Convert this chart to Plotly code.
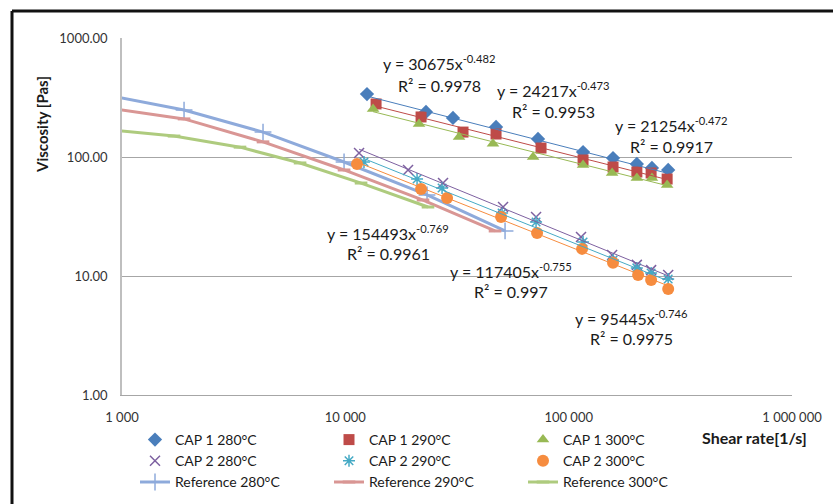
import numpy as np
import plotly.graph_objects as go

# ---------------- data ----------------
CAP1_280_x = [12500, 22970, 30340, 47300, 72900, 116000, 158000, 202000, 236000, 279000]
CAP1_280_y = [338, 239, 213, 179, 142, 110, 98, 87.3, 80.9, 77.8]
CAP1_290_x = [13730, 21830, 33650, 47300, 75200, 116000, 158000, 202000, 234000, 276000]
CAP1_290_y = [279, 217, 162, 156, 119, 94.4, 82.4, 74.8, 73.4, 65.3]
CAP1_300_x = [13310, 21380, 32300, 45830, 69300, 116000, 156500, 202000, 236000, 276000]
CAP1_300_y = [253, 189, 147, 129, 100, 85.7, 73.4, 66.7, 66.7, 58.2]

CAP2_280_x = [11520, 19090, 27380, 50840, 71450, 113600, 156500, 202000, 234000, 279000]
CAP2_280_y = [108, 77.8, 60.4, 38.0, 31.3, 21.3, 15.0, 12.4, 11.2, 10.2]
CAP2_290_x = [12120, 20950, 27110, 50330, 71450, 116000, 158000, 202000, 234000, 279000]
CAP2_290_y = [90.8, 65.3, 54.9, 33.8, 28.4, 19.3, 13.6, 11.7, 10.6, 9.44]
CAP2_300_x = [11280, 21830, 28540, 49820, 72200, 114800, 158000, 204600, 234000, 279000]
CAP2_300_y = [87.3, 53.8, 45.2, 31.3, 23.0, 16.9, 12.9, 10.2, 9.26, 7.78]

REF_280_x = [850, 1896, 4280, 9870, 23220, 51900]
REF_280_y = [332, 248, 162, 90.8, 48.0, 23.9]
REF_290_x = [850, 1896, 4280, 9870, 22280, 46800]
REF_290_y = [259, 209, 134, 77.8, 43.5, 23.9]
REF_300_x = [850, 1710, 3376, 6270, 11760, 23450]
REF_300_y = [170, 150, 121, 89.1, 60.4, 38.0]

# power trendline coefficients (y = a * x^b) and R^2 as printed on chart
TREND_A = [30675, 24217, 21254, 154493, 117405, 95445]
TREND_B = [-0.482, -0.473, -0.472, -0.769, -0.755, -0.746]
TREND_R2 = ["0.9978", "0.9953", "0.9917", "0.9961", "0.997", "0.9975"]

X_TICKS = [1000, 10000, 100000, 1000000]
X_TICKTEXT = ["1 000", "10 000", "100 000", "1 000 000"]
Y_TICKS = [1, 10, 100, 1000]
Y_TICKTEXT = ["1.00", "10.00", "100.00", "1000.00"]

SERIES_NAMES = ["CAP 1 280°C", "CAP 1 290°C", "CAP 1 300°C",
                "CAP 2 280°C", "CAP 2 290°C", "CAP 2 300°C"]
REF_NAMES = ["Reference 280°C", "Reference 290°C", "Reference 300°C"]

# ---------------- styling ----------------
FONT = "Lato"
W, H = 833, 504
L, R, T, B = 122, 792, 38, 395  # plot area in pixels


def pxx(p):
    return (p - L) / (R - L)


def pxy(p):
    return (B - p) / (B - T)


cap_x = [CAP1_280_x, CAP1_290_x, CAP1_300_x, CAP2_280_x, CAP2_290_x, CAP2_300_x]
cap_y = [CAP1_280_y, CAP1_290_y, CAP1_300_y, CAP2_280_y, CAP2_290_y, CAP2_300_y]
cap_colors = ["#4A7EBB", "#BE4B48", "#98B954", "#7D60A0", "#46AAC5", "#F68C3F"]
cap_markers = [
    dict(symbol="diamond", size=11, color="#4A7EBB"),
    dict(symbol="square", size=11, color="#BE4B48"),
    dict(symbol="triangle-up", size=11, color="#98B954"),
    dict(symbol="x-thin", size=10, color="#7D60A0", line=dict(color="#7D60A0", width=1.5)),
    dict(symbol="asterisk", size=10, color="#46AAC5", line=dict(color="#46AAC5", width=1.5)),
    dict(symbol="circle", size=12, color="#F68C3F"),
]

ref_x = [REF_280_x, REF_290_x, REF_300_x]
ref_y = [REF_280_y, REF_290_y, REF_300_y]
ref_colors = ["#8EAADB", "#D99694", "#AECB7E"]
ref_markers = [
    dict(symbol="cross-thin", size=12, color="#8EAADB", line=dict(color="#8EAADB", width=1.5)),
    dict(symbol="line-ew", size=9, color="#D99694", line=dict(color="#D99694", width=3)),
    dict(symbol="line-ew", size=9, color="#AECB7E", line=dict(color="#AECB7E", width=3)),
]

fig = go.Figure()

# reference curves (drawn first, below)
for i in range(3):
    fig.add_trace(go.Scatter(
        x=ref_x[i], y=ref_y[i], mode="lines+markers", name=REF_NAMES[i],
        line=dict(color=ref_colors[i], width=3), marker=ref_markers[i],
        legendrank=7 + i,
    ))

# measured series
for i in range(6):
    fig.add_trace(go.Scatter(
        x=cap_x[i], y=cap_y[i], mode="markers", name=SERIES_NAMES[i],
        marker=cap_markers[i], legendrank=1 + i,
    ))

# power trendlines
for i in range(6):
    xs = np.array([min(cap_x[i]), max(cap_x[i])], dtype=float)
    ys = TREND_A[i] * xs ** TREND_B[i]
    fig.add_trace(go.Scatter(
        x=xs, y=ys, mode="lines", showlegend=False, hoverinfo="skip",
        line=dict(color=cap_colors[i], width=1),
    ))

# trendline equations
eq_pos = [(439, 63, 86), (553, 89, 111), (671, 124, 146),
          (388, 232, 253), (511, 270, 291), (631, 317, 338)]
for i, (cx, y1, y2) in enumerate(eq_pos):
    fig.add_annotation(
        x=pxx(cx), y=pxy(y1), xref="paper", yref="paper", showarrow=False,
        text="y = %dx<sup>%s</sup>" % (TREND_A[i], ("%.3f" % TREND_B[i])),
        font=dict(family=FONT, size=16, color="#1a1a1a"), xanchor="center", yanchor="middle",
    )
    fig.add_annotation(
        x=pxx(cx), y=pxy(y2), xref="paper", yref="paper", showarrow=False,
        text="R² = %s" % TREND_R2[i],
        font=dict(family=FONT, size=16, color="#1a1a1a"), xanchor="center", yanchor="middle",
    )

# axis titles
fig.add_annotation(x=pxx(42), y=pxy(125), xref="paper", yref="paper", showarrow=False,
                   text="<b>Viscosity [Pas]</b>", textangle=-90,
                   xanchor="center", yanchor="middle",
                   font=dict(family=FONT, size=15, color="#1a1a1a"))
fig.add_annotation(x=pxx(754), y=pxy(437), xref="paper", yref="paper", showarrow=False,
                   text="<b>Shear rate[1/s]</b>", xanchor="center", yanchor="middle",
                   font=dict(family=FONT, size=16, color="#1a1a1a"))

# outer chart border (left and top visible)
fig.add_shape(type="line", xref="paper", yref="paper",
              x0=pxx(12), y0=pxy(11), x1=pxx(12), y1=pxy(520),
              line=dict(color="#111111", width=3))
fig.add_shape(type="line", xref="paper", yref="paper",
              x0=pxx(12), y0=pxy(11), x1=pxx(850), y1=pxy(11),
              line=dict(color="#111111", width=3))

fig.update_xaxes(
    type="log", range=[3, 6], tickvals=X_TICKS, ticktext=X_TICKTEXT,
    showgrid=False, zeroline=False, showline=True, linecolor="#A6A6A6", linewidth=1,
    ticks="", ticklabelstandoff=10,
    tickfont=dict(family=FONT, size=13, color="#333333"),
)
fig.update_yaxes(
    type="log", range=[0, 3], tickvals=Y_TICKS, ticktext=Y_TICKTEXT,
    showgrid=True, gridcolor="#A6A6A6", gridwidth=1, zeroline=False,
    showline=True, linecolor="#BFBFBF", linewidth=1.5,
    ticks="", ticklabelstandoff=10,
    tickfont=dict(family=FONT, size=13, color="#333333"),
)

fig.update_layout(
    width=W, height=H,
    margin=dict(l=L, r=W - R, t=T, b=H - B, autoexpand=False),
    plot_bgcolor="white", paper_bgcolor="white",
    font=dict(family=FONT, size=14, color="#1a1a1a"),
    legend=dict(
        orientation="h", x=pxx(135), y=pxy(424), xanchor="left", yanchor="top",
        entrywidth=149, entrywidthmode="pixels", traceorder="normal",
        font=dict(family=FONT, size=14, color="#1a1a1a"),
        bgcolor="rgba(0,0,0,0)", itemsizing="trace",
    ),
    showlegend=True,
)

fig.write_html("out.html", config={"displayModeBar": False},
               post_script="document.body.style.margin='0';")
